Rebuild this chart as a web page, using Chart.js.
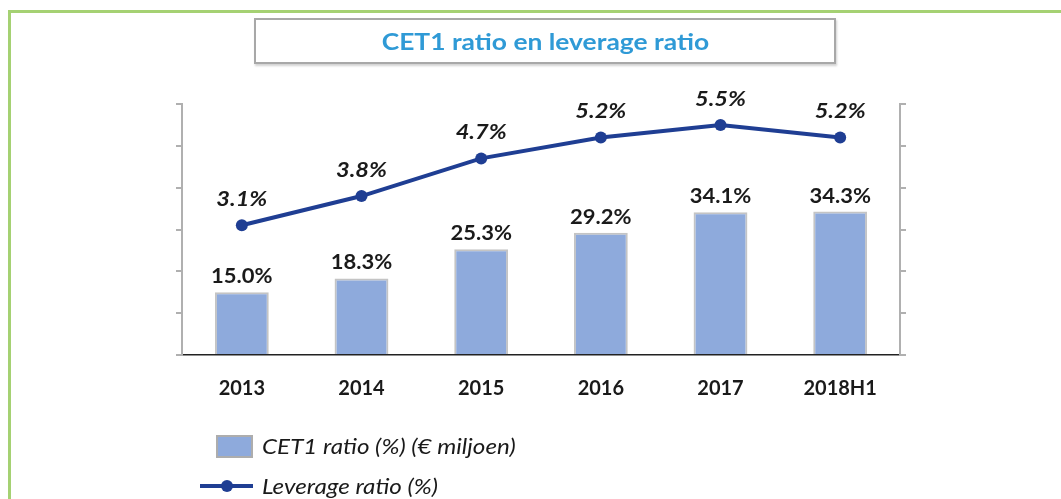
<!DOCTYPE html>
<html>
<head>
<meta charset="utf-8">
<script src="https://cdn.jsdelivr.net/npm/chart.js@4.4.1/dist/chart.umd.min.js"></script>
<style>
  html, body { margin: 0; padding: 0; background: #fff; width: 1061px; height: 499px; overflow: hidden; }
  #frame { position: absolute; left: 8px; top: 10px; width: 1100px; height: 600px; border: 3px solid #a5d173; box-sizing: border-box; }
  #titlebox { position: absolute; left: 254px; top: 18px; width: 582px; height: 46px; box-sizing: border-box;
    border: 2px solid #a8a8a8; box-shadow: 1px 2px 2px rgba(0,0,0,0.18); background: #fff;
    display: flex; align-items: center; justify-content: center;
    font-family: Lato, "Open Sans", sans-serif; font-weight: bold; font-size: 22px; color: #2f9ad6; }
  #titlebox span { display: inline-block; transform: scaleX(1.2); transform-origin: center; }
  canvas { position: absolute; left: 0; top: 0; }
  .leg { position: absolute; font-family: Lato, "Open Sans", sans-serif; font-style: italic; font-size: 22px; color: #1a1a1a; white-space: nowrap; transform: scaleX(1.1); transform-origin: left center; }
  #legBox { position: absolute; left: 216px; top: 435px; width: 37px; height: 23px; box-sizing: border-box; background: #8eaadc; border: 2px solid #adadad; }
  #legLine { position: absolute; left: 200px; top: 484px; width: 53px; height: 4px; background: #1f3e93; }
  #legDot { position: absolute; left: 221px; top: 480px; width: 12px; height: 12px; border-radius: 50%; background: #1f3e93; }
</style>
</head>
<body>
<div id="frame"></div>
<canvas id="c" width="1061" height="499"></canvas>
<div id="titlebox"><span id="titleText"></span></div>
<div id="legBox"></div>
<div class="leg" id="legText1" style="left:262px; top:432px;"></div>
<div id="legLine"></div><div id="legDot"></div>
<div class="leg" id="legText2" style="left:262px; top:472px;"></div>
<script>
const chartTitle = "CET1 ratio en leverage ratio";
const categories = ["2013", "2014", "2015", "2016", "2017", "2018H1"];
const cet1Label = "CET1 ratio (%) (€ miljoen)";
const cet1Values = [15.0, 18.3, 25.3, 29.2, 34.1, 34.3];
const leverageLabel = "Leverage ratio (%)";
const leverageValues = [3.1, 3.8, 4.7, 5.2, 5.5, 5.2];

document.getElementById('titleText').textContent = chartTitle;
document.getElementById('legText1').textContent = cet1Label;
document.getElementById('legText2').textContent = leverageLabel;

const FONT = 'Lato, "Open Sans", sans-serif';

function stretchedText(ctx, text, x, y, sx) {
  ctx.save();
  ctx.translate(x, y);
  ctx.scale(sx, 1);
  ctx.fillText(text, 0, 0);
  ctx.restore();
}

const labelPlugin = {
  id: 'valueLabels',
  afterDatasetsDraw(chart) {
    const ctx = chart.ctx;
    ctx.save();
    ctx.textAlign = 'center';
    ctx.textBaseline = 'alphabetic';
    ctx.fillStyle = '#1a1a1a';
    const barMeta = chart.getDatasetMeta(0);
    ctx.font = 'bold 20px ' + FONT;
    barMeta.data.forEach((el, i) => {
      stretchedText(ctx, cet1Values[i].toFixed(1) + '%', el.x, el.y - 9, 1.1);
    });
    const lineMeta = chart.getDatasetMeta(1);
    ctx.font = 'italic bold 20px ' + FONT;
    lineMeta.data.forEach((el, i) => {
      stretchedText(ctx, leverageValues[i].toFixed(1) + '%', el.x, el.y - 19, 1.18);
    });
    ctx.restore();
  }
};

new Chart(document.getElementById('c'), {
  data: {
    labels: categories,
    datasets: [
      {
        type: 'bar', label: cet1Label, data: cet1Values, yAxisID: 'y', order: 2,
        backgroundColor: '#8eaadc', borderColor: '#c4c4c4', borderWidth: 2,
        barPercentage: 0.45, categoryPercentage: 1.0
      },
      {
        type: 'line', label: leverageLabel, data: leverageValues, yAxisID: 'y1', order: 1,
        borderColor: '#1f3e93', backgroundColor: '#1f3e93', borderWidth: 4,
        pointRadius: 6, pointHoverRadius: 6, pointBackgroundColor: '#1f3e93', pointBorderWidth: 0,
        tension: 0, clip: false
      }
    ]
  },
  options: {
    responsive: false,
    animation: false,
    events: [],
    layout: { padding: { left: 172, right: 151, top: 104, bottom: 104 } },
    plugins: { legend: { display: false }, tooltip: { enabled: false }, title: { display: false } },
    scales: {
      x: {
        grid: { display: false },
        border: { display: true, color: '#222', width: 1.5 },
        ticks: { color: '#1a1a1a', font: { family: FONT, weight: 'bold', size: 20 }, padding: 14 },
        afterFit(s) { s.height = 40; }
      },
      y: {
        position: 'left', min: 0, max: 60,
        ticks: { display: false, stepSize: 10 },
        grid: { drawOnChartArea: false, drawTicks: true, tickLength: 6, color: '#b0b0b0', lineWidth: 2 },
        border: { display: true, color: '#b0b0b0', width: 2 },
        afterFit(s) { s.width = 10; }
      },
      y1: {
        position: 'right', min: 0, max: 6,
        ticks: { display: false, stepSize: 1 },
        grid: { drawOnChartArea: false, drawTicks: true, tickLength: 6, color: '#b0b0b0', lineWidth: 2 },
        border: { display: true, color: '#b0b0b0', width: 2 },
        afterFit(s) { s.width = 10; }
      }
    }
  },
  plugins: [labelPlugin]
});
</script>
</body>
</html>
